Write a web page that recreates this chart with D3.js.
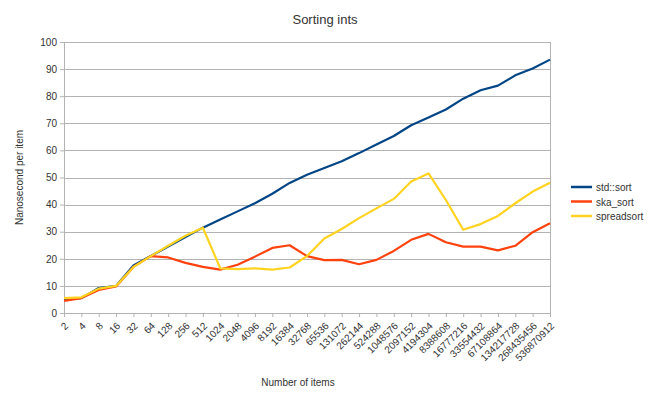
<!DOCTYPE html>
<html>
<head>
<meta charset="utf-8">
<script src="https://cdn.jsdelivr.net/npm/d3@7"></script>
<style>
  body { margin: 0; background: #fff; }
  text { font-family: "Liberation Sans", Arial, sans-serif; fill: #333; }
</style>
</head>
<body>
<script>
// item counts, 2^1 .. 2^29
var sizes = ["2","4","8","16","32","64","128","256","512","1024","2048","4096","8192",
  "16384","32768","65536","131072","262144","524288","1048576","2097152","4194304",
  "8388608","16777216","33554432","67108864","134217728","268435456","536870912"];

var stdSort = [5, 5.5, 9.2, 10, 17.5, 21, 24.5, 28, 31.5, 34.5, 37.5, 40.5, 44, 48, 51,
  53.5, 56, 59, 62.2, 65.3, 69.3, 72.1, 75.1, 79.1, 82.2, 83.9, 87.7, 90.2, 93.5];
var skaSort = [4.5, 5.5, 8.5, 9.8, 17, 21, 20.5, 18.5, 17, 16, 17.8, 20.8, 24, 25, 21,
  19.5, 19.6, 18, 19.6, 22.9, 27, 29.2, 26.1, 24.5, 24.5, 23.1, 24.8, 29.8, 33.1];
var spreadSort = [5.5, 5.8, 9, 10, 17, 21, 24.8, 28.5, 31.5, 16.5, 16.2, 16.5, 16, 16.8, 21,
  27.5, 31, 35, 38.6, 42.1, 48.5, 51.5, 41.7, 30.7, 32.8, 35.8, 40.5, 44.8, 48.1];

var yTicks = [0, 10, 20, 30, 40, 50, 60, 70, 80, 90, 100];

var series = [
  { name: "std::sort", values: stdSort, color: "#004586" },
  { name: "ska_sort", values: skaSort, color: "#ff420e" },
  { name: "spreadsort", values: spreadSort, color: "#ffd320" }
];

var W = 650, H = 402;
var plotL = 64, plotR = 550, plotT = 42, plotB = 313;

var svg = d3.select("body").append("svg")
  .attr("width", W)
  .attr("height", H)

var x = d3.scalePoint().domain(sizes).range([plotL, plotR]);
var y = d3.scaleLinear().domain([0, 100]).range([plotB, plotT]);

// gridlines
svg.append("g")
  .selectAll("line")
  .data(yTicks)
  .join("line")
  .attr("x1", plotL).attr("x2", plotR)
  .attr("y1", d => Math.round(y(d)) + 0.5).attr("y2", d => Math.round(y(d)) + 0.5)
  .attr("stroke", "#b3b3b3")
  .attr("stroke-width", 1);

// right border of plot
svg.append("line")
  .attr("x1", plotR + 0.5).attr("x2", plotR + 0.5)
  .attr("y1", plotT).attr("y2", plotB)
  .attr("stroke", "#b3b3b3");

var yAxis = svg.append("g")
  .attr("transform", "translate(" + plotL + ",0)")
  .call(d3.axisLeft(y).tickValues(yTicks).tickSize(4).tickPadding(3));
yAxis.select(".domain").attr("stroke", "#b3b3b3");
yAxis.selectAll(".tick line").attr("stroke", "#b3b3b3");
yAxis.selectAll("text").attr("font-size", 10).style("fill", "#333");

var xAxis = svg.append("g")
  .attr("transform", "translate(0," + plotB + ")")
  .call(d3.axisBottom(x).tickSize(4).tickSizeOuter(0));
xAxis.select(".domain").attr("stroke", "#b3b3b3");
xAxis.selectAll(".tick line").attr("stroke", "#b3b3b3");
xAxis.selectAll("text")
  .attr("font-size", 10)
  .style("fill", "#333")
  .attr("text-anchor", "end")
  .attr("y", 0)
  .attr("dy", "0.35em")
  .attr("transform", "translate(2,11) rotate(-45)");

// lines
var line = d3.line()
  .x((d, i) => x(sizes[i]))
  .y(d => y(d));

svg.append("g")
  .selectAll("path")
  .data(series)
  .join("path")
  .attr("d", d => line(d.values))
  .attr("fill", "none")
  .attr("stroke", d => d.color)
  .attr("stroke-width", 2.2)
  .attr("stroke-linejoin", "round");

// title and axis titles
svg.append("text")
  .text("Sorting ints")
  .attr("x", 325).attr("y", 24)
  .attr("text-anchor", "middle")
  .attr("font-size", 13);

svg.append("text")
  .text("Number of items")
  .attr("x", 298).attr("y", 386)
  .attr("text-anchor", "middle")
  .attr("font-size", 10);

svg.append("text")
  .text("Nanosecond per item")
  .attr("transform", "translate(23," + ((plotT + plotB) / 2) + ") rotate(-90)")
  .attr("text-anchor", "middle")
  .attr("font-size", 10);

// legend
var legend = svg.append("g")
  .selectAll("g")
  .data(series)
  .join("g")
  .attr("transform", (d, i) => "translate(571," + (187 + i * 14.5) + ")");
legend.append("line")
  .attr("x1", 0).attr("x2", 21)
  .attr("stroke", d => d.color)
  .attr("stroke-width", 2.5);
legend.append("text")
  .text(d => d.name)
  .attr("x", 25).attr("y", 4)
  .attr("font-size", 10);
</script>
</body>
</html>
